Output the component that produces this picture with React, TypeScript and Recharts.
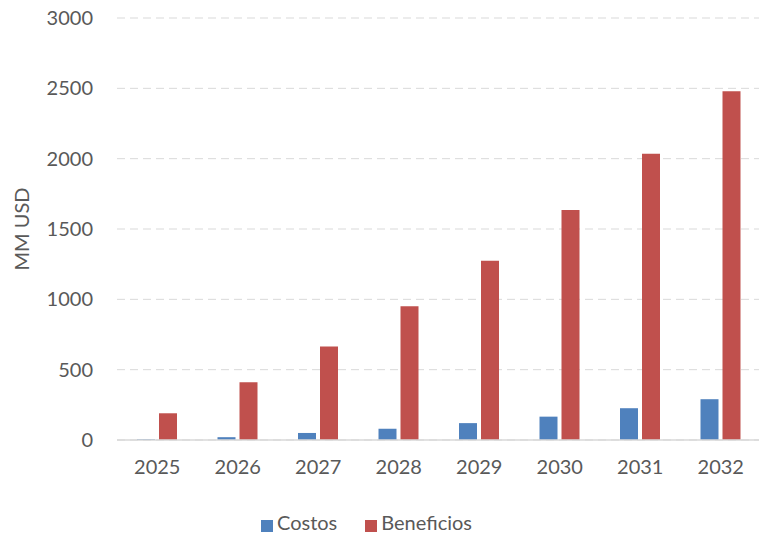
import React from "react";
import {
  BarChart,
  Bar,
  XAxis,
  YAxis,
  CartesianGrid,
  Legend,
} from "recharts";

const years = ["2025", "2026", "2027", "2028", "2029", "2030", "2031", "2032"];
const costos = [5, 20, 50, 80, 120, 166, 226, 290];
const beneficios = [190, 410, 665, 950, 1275, 1635, 2035, 2480];
const yTicks = [0, 500, 1000, 1500, 2000, 2500, 3000];
const seriesNames = ["Costos", "Beneficios"];

const data = years.map((year, i) => ({
  year,
  Costos: costos[i],
  Beneficios: beneficios[i],
}));

const FONT = "Lato, 'Open Sans', sans-serif";
const TEXT = "#595959";

const App = () => {
  return (
    <div style={{ position: "absolute", left: 0, top: 0, fontFamily: FONT }}>
      <BarChart
        width={759}
        height={538}
        data={data}
        margin={{ top: 18, right: -2, left: 0, bottom: -2 }}
        barSize={18}
        barGap={4}
      >
        <CartesianGrid
          vertical={false}
          stroke="#D9D9D9"
          strokeDasharray="8 5"
        />
        <XAxis
          dataKey="year"
          tick={{ fill: TEXT, fontSize: 20, fontFamily: FONT }}
          tickLine={false}
          axisLine={{ stroke: "#D9D9D9", strokeWidth: 1.5 }}
          tickSize={0}
          tickMargin={20}
          height={70}
        />
        <YAxis
          domain={[0, 3000]}
          ticks={yTicks}
          tick={{ fill: TEXT, fontSize: 20, fontFamily: FONT }}
          tickLine={false}
          axisLine={false}
          tickSize={0}
          tickMargin={24}
          width={117}
          label={{
            value: "MM USD",
            angle: -90,
            position: "insideLeft",
            offset: 22,
            style: { fill: TEXT, fontSize: 20, fontFamily: FONT, textAnchor: "middle" },
          }}
        />
        <Legend
          verticalAlign="bottom"
          align="center"
          iconType="square"
          iconSize={12}
          height={30}
          itemSorter={(item: any) => seriesNames.indexOf(item.value)}
          formatter={(value: string) => (
            <span style={{ color: TEXT, fontSize: 20, fontFamily: FONT, marginRight: 18 }}>
              {value}
            </span>
          )}
        />
        <Bar dataKey="Costos" fill="#4F81BD" isAnimationActive={false} />
        <Bar dataKey="Beneficios" fill="#C0504D" isAnimationActive={false} />
      </BarChart>
    </div>
  );
};

export default App;
